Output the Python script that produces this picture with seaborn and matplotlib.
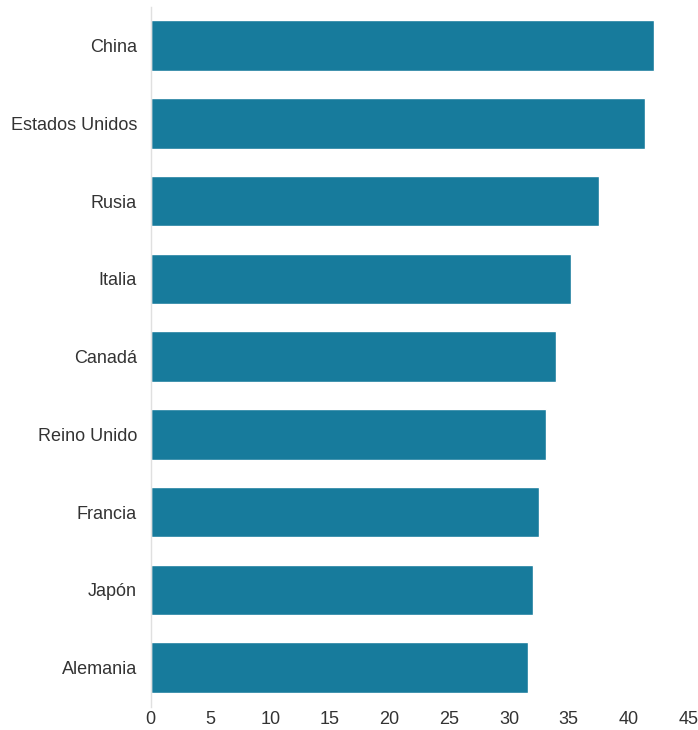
import pandas as pd
import seaborn as sns
import matplotlib.pyplot as plt

paises = ['China', 'Estados Unidos', 'Rusia', 'Italia', 'Canadá',
          'Reino Unido', 'Francia', 'Japón', 'Alemania']
valores = [42.1, 41.4, 37.5, 35.2, 33.9, 33.1, 32.5, 32.0, 31.6]
ticks_x = [0, 5, 10, 15, 20, 25, 30, 35, 40, 45]

df = pd.DataFrame({'pais': paises, 'valor': valores})

sns.set_theme(style='white')
plt.rcParams['font.family'] = ['Liberation Sans', 'DejaVu Sans']

fig = plt.figure(figsize=(6.98, 7.30), dpi=100)
ax = fig.add_axes([0.216, 0.032, 0.77, 0.959])

sns.barplot(data=df, x='valor', y='pais', color='#177b9c', width=0.65,
            saturation=1, ax=ax)

ax.set_xlim(0, 45)
ax.set_ylim(8.5, -0.5)
ax.set_xticks(ticks_x)
ax.set_xlabel('')
ax.set_ylabel('')
ax.tick_params(axis='both', length=0, labelsize=13, colors='#333333')
ax.tick_params(axis='x', pad=3)
ax.tick_params(axis='y', pad=10)

for s in ['top', 'right', 'bottom']:
    ax.spines[s].set_visible(False)
ax.spines['left'].set_color('#e0e0e0')
ax.spines['left'].set_linewidth(1)

fig.savefig('out.png', dpi=100)
